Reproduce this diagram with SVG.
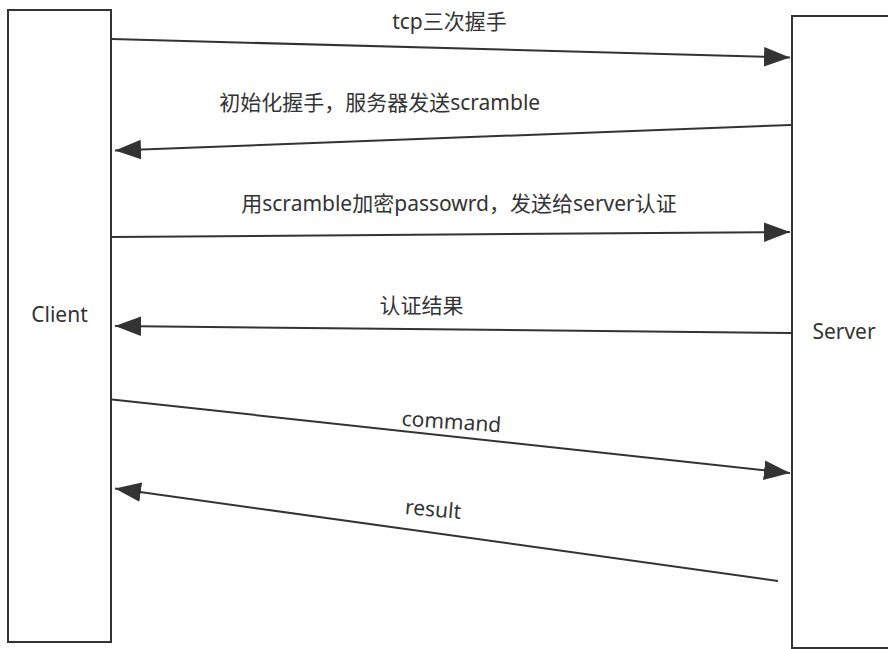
<svg xmlns="http://www.w3.org/2000/svg" width="888" height="649" viewBox="0 0 888 649">
<style>
.box{fill:#fff;stroke:#333;stroke-width:2}
.conn{fill:none;stroke:#333;stroke-width:2}
text{font-family:"Noto Sans","Noto Sans CJK SC",sans-serif;font-size:21px;fill:#333}
.lbl{text-anchor:middle}
</style>
<defs>
<marker id="ah" markerUnits="userSpaceOnUse" markerWidth="26" markerHeight="20" viewBox="0 0 24 18" refX="24" refY="9" orient="auto">
<path d="M0,0 L24,9 L0,18 Z" fill="#333"/>
</marker>
</defs>
<rect width="888" height="649" fill="#fff"/>
<g id="client">
<rect class="box" x="8" y="10" width="103" height="632"/>
<text x="59.5" y="322" class="lbl">Client</text>
</g>
<g id="server">
<rect class="box" x="792" y="16" width="120" height="632"/>
<text x="844" y="339" class="lbl">Server</text>
</g>
<g id="connectors">
<line class="conn" x1="112" y1="39" x2="790" y2="57.5" marker-end="url(#ah)"/>
<line class="conn" x1="791" y1="125" x2="115" y2="150.5" marker-end="url(#ah)"/>
<line class="conn" x1="112" y1="237" x2="790" y2="232" marker-end="url(#ah)"/>
<line class="conn" x1="791" y1="333" x2="115" y2="326" marker-end="url(#ah)"/>
<line class="conn" x1="112" y1="399.5" x2="790" y2="473" marker-end="url(#ah)"/>
<line class="conn" x1="778" y1="581" x2="115" y2="488.5" marker-end="url(#ah)"/>
</g>
<g id="labels">
<text x="449.5" y="29" class="lbl">tcp三次握手</text>
<text x="379.7" y="110" class="lbl">初始化握手，服务器发送scramble</text>
<text x="459" y="211" class="lbl">用scramble加密passowrd，发送给server认证</text>
<text x="421.5" y="313" class="lbl">认证结果</text>
<text x="451" y="429" class="lbl" transform="rotate(3.8 451 429)">command</text>
<text x="432.5" y="516.5" class="lbl" transform="rotate(5 432.5 516.5)">result</text>
</g>
</svg>
